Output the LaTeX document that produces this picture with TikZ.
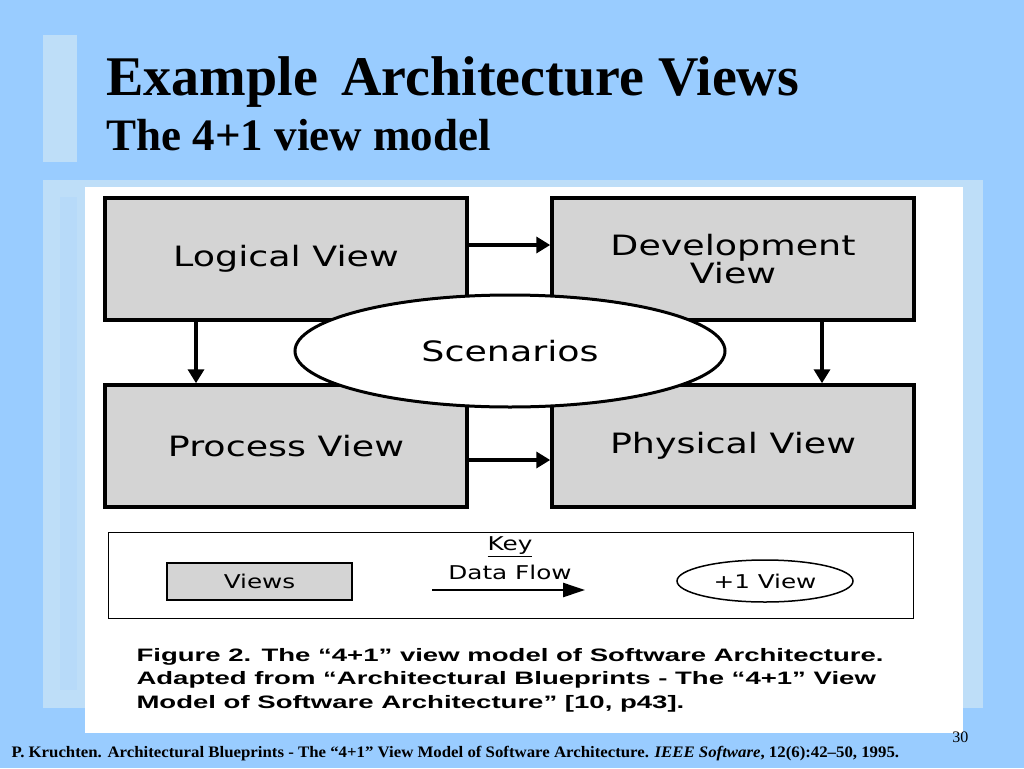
\documentclass[tikz,border=0pt]{standalone}
\usepackage{fontspec}
\setmainfont{Liberation Serif}
\setsansfont{DejaVu Sans}
\newfontfamily\capfont{Liberation Sans}
\usetikzlibrary{positioning, shapes, arrows.meta}
\definecolor{slidebg}{RGB}{153,204,255}
\definecolor{panelbg}{RGB}{190,222,248}
\definecolor{viewgray}{RGB}{212,212,212}
\newcommand{\wide}[2][1.3]{\scalebox{#1}[1]{#2}}
\tikzset{%
  view/.style    = {draw, line width = 3.5pt, fill = viewgray, minimum width = 362pt,
    minimum height = 122pt, font = \sffamily\fontsize{28}{30}\selectfont, align = center},
  keytext/.style = {font = \sffamily\fontsize{19}{21}\selectfont},
  flow/.style    = {-{Triangle[length = 14pt, width = 16pt]}, line width = 3.5pt},
  keyflow/.style = {-{Triangle[length = 22pt, width = 14pt]}, line width = 2.5pt},
  caption/.style = {anchor = west, font = \capfont\bfseries\fontsize{18}{20}\selectfont}
}
\begin{document}
\begin{tikzpicture}[x = 1pt, y = -1pt]
\useasboundingbox (0,0) rectangle (1024,768);
%background
\fill[slidebg] (0,0) rectangle (1024,768);
\fill[panelbg] (43,35) rectangle (77,162);
\fill[panelbg] (43,180) rectangle (983,708);
\fill[white] (85,187) rectangle (963,733);
\fill[panelbg!80!slidebg] (60,197) rectangle (77,690);
%titles
\node[anchor = base west, font = \bfseries\fontsize{56}{60}\selectfont] (title) at (103,95) {Example\, Architecture Views};
\node[anchor = base west, font = \bfseries\fontsize{45}{48}\selectfont] (subtitle) at (103,150) {The 4+1 view model};
%views
\node[view] (logical) at (286,259) {\wide{Logical View}};
\node[view] (devel) at (733,259) {\wide{Development}\\[-2pt]\wide{View}};
\node[view] (process) at (286,446) {\wide{Process View}};
\node[view] (physical) at (733,446) {\wide{Physical View}};
\node[draw, ellipse, fill = white, line width = 3pt, minimum width = 430pt, minimum height = 112pt,
  font = \sffamily\fontsize{28}{30}\selectfont] (scen) at (510,351) {\wide{Scenarios}};
%arrows
\draw[flow] (logical.east |- 0,245) -- (devel.west |- 0,245);
\draw[flow] (process.east |- 0,460) -- (physical.west |- 0,460);
\draw[flow] (196,0 |- logical.south) -- (196,0 |- process.north);
\draw[flow] (822,0 |- devel.south) -- (822,0 |- physical.north);
%key
\node[draw, line width = 1pt, minimum width = 805pt, minimum height = 86pt] (keybox) at (510.5,575) {};
\node[keytext] (key) at (510,547) {\wide{\underline{Key}}};
\node[keytext] (dataflow) at (510,572) {\wide{Data Flow}};
\coordinate (flowa) at (432,590);
\coordinate (flowb) at (585,590);
\draw[keyflow] (flowa) -- (flowb);
\node[draw, line width = 2pt, fill = viewgray, minimum width = 185pt, minimum height = 37pt,
  keytext] (views) at (259.5,581.5) {\wide{Views}};
\node[draw, ellipse, line width = 1.5pt, minimum width = 176pt, minimum height = 42pt,
  keytext] (plusone) at (765,581) {\wide{+1 View}};
%caption
\node[caption] (cap1) at (133,657) {\wide[1.53]{Figure 2. The “4+1” view model of Software Architecture.}};
\node[caption] (cap2) at (133,680) {\wide[1.53]{Adapted from “Architectural Blueprints - The “4+1” View}};
\node[caption] (cap3) at (133,704) {\wide[1.53]{Model of Software Architecture” [10, p43].}};
%footer
\node[anchor = base east, font = \fontsize{16}{18}\selectfont] (pagenum) at (972,742) {30};
\node[anchor = base west, font = \bfseries\fontsize{16}{18}\selectfont] (footer) at (8,757)
  {\wide[1.05]{P. Kruchten. Architectural Blueprints - The “4+1” View Model of Software Architecture. \textit{IEEE Software}, 12(6):42--50, 1995.}};
\end{tikzpicture}
\end{document}
